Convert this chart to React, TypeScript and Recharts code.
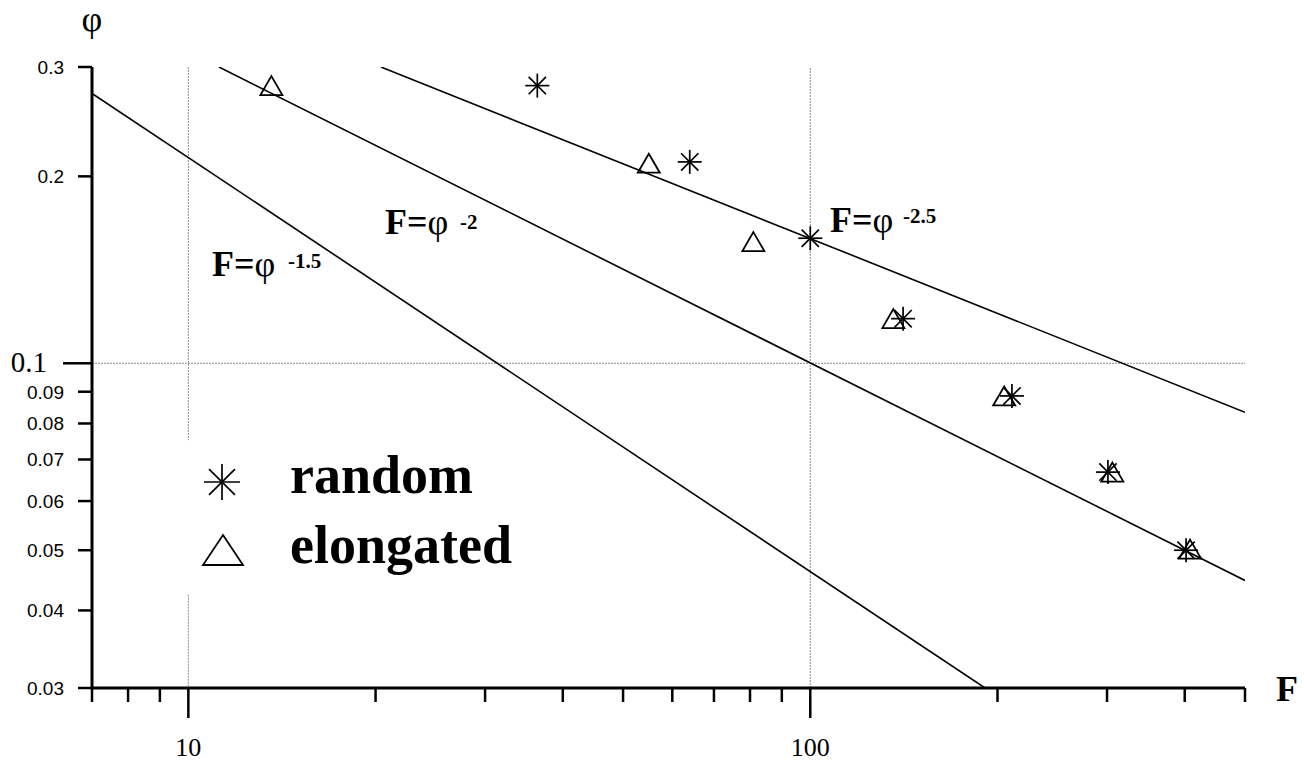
import { ComposedChart, Line, Scatter, XAxis, YAxis, ReferenceLine, Legend } from "recharts";

const W = 1304;
const H = 761;
const SERIF = "'Liberation Serif', 'Times New Roman', serif";
const SANS = "'Liberation Sans', Arial, sans-serif";

// axis ticks
const F_TICKS = [7, 8, 9, 10, 20, 30, 40, 50, 60, 70, 80, 90, 100, 200, 300, 400, 500];
const F_LABELED = [10, 100];
const PHI_TICKS = [0.03, 0.04, 0.05, 0.06, 0.07, 0.08, 0.09, 0.1, 0.2, 0.3];

// measured points
const F_RANDOM = [36.4, 64, 100, 141, 211, 301, 402];
const PHI_RANDOM = [0.28, 0.211, 0.159, 0.118, 0.0886, 0.0668, 0.05];
const F_ELONG = [13.6, 55, 81, 136, 205, 306, 408];
const PHI_ELONG = [0.28, 0.21, 0.157, 0.118, 0.0886, 0.0668, 0.0502];

// power-law guide lines (end points)
const FIT15_F = [7, 191];
const FIT15_PHI = [0.272, 0.03];
const FIT20_F = [11.2, 500];
const FIT20_PHI = [0.3, 0.0447];
const FIT25_F = [20.4, 500];
const FIT25_PHI = [0.3, 0.0834];

const FIT_LABELS = [
  { exp: "-1.5", x: 212, y: 276, supX: 288, supY: 268 },
  { exp: "-2", x: 385, y: 234, supX: 460, supY: 229 },
  { exp: "-2.5", x: 830, y: 232, supX: 903, supY: 223 },
];

const zip = (xs: number[], ys: number[]) => xs.map((x, i) => ({ x, y: ys[i] }));

function Asterisk({ cx, cy, r = 12 }: { cx?: number; cy?: number; r?: number }) {
  if (cx == null || cy == null) return null;
  const d = r * 0.72;
  return (
    <g stroke="#000" strokeWidth={1.7}>
      <line x1={cx - r} y1={cy} x2={cx + r} y2={cy} />
      <line x1={cx} y1={cy - r} x2={cx} y2={cy + r} />
      <line x1={cx - d} y1={cy - d} x2={cx + d} y2={cy + d} />
      <line x1={cx - d} y1={cy + d} x2={cx + d} y2={cy - d} />
    </g>
  );
}

function Triangle({ cx, cy, w = 22, h = 19 }: { cx?: number; cy?: number; w?: number; h?: number }) {
  if (cx == null || cy == null) return null;
  return (
    <path
      d={`M${cx},${cy - h / 2} L${cx + w / 2},${cy + h / 2} L${cx - w / 2},${cy + h / 2} Z`}
      fill="none" stroke="#000" strokeWidth={1.8} strokeLinejoin="miter"
    />
  );
}

function FTick({ x, y, payload }: any) {
  const major = F_LABELED.includes(payload.value);
  return (
    <g>
      <line x1={x} y1={y} x2={x} y2={y + (major ? 30 : 14)} stroke="#000" strokeWidth={2.5} />
      {major && (
        <text x={x} y={y + 68} textAnchor="middle" fontFamily={SERIF} fontSize={26} fill="#000">
          {payload.value}
        </text>
      )}
    </g>
  );
}

function PhiTick({ x, y, payload }: any) {
  const major = payload.value === 0.1;
  return (
    <g>
      <line x1={x - (major ? 29 : 14)} y1={y} x2={x} y2={y} stroke="#000" strokeWidth={2.5} />
      {major ? (
        <text x={x - 45} y={y + 9} textAnchor="end" fontFamily={SERIF} fontSize={29} fill="#000">0.1</text>
      ) : (
        <text x={x - 28} y={y + 7} textAnchor="end" fontFamily={SANS} fontSize={19} fill="#000">
          {payload.value}
        </text>
      )}
    </g>
  );
}

function LegendBox() {
  return (
    <svg width={360} height={170}>
      <Asterisk cx={32} cy={52} r={18} />
      <text x={100} y={63} fontFamily={SERIF} fontWeight="bold" fontSize={54} fill="#000">random</text>
      <Triangle cx={33} cy={120} w={40} h={30} />
      <text x={100} y={133} fontFamily={SERIF} fontWeight="bold" fontSize={54} fill="#000">elongated</text>
    </svg>
  );
}

const grid = { stroke: "#8c8c8c", strokeWidth: 1, strokeDasharray: "2 1" };

export default function App() {
  return (
    <div style={{ position: "absolute", left: 0, top: 0, width: W, height: H, background: "#fff" }}>
      <ComposedChart width={W} height={H} margin={{ top: 67, right: 59, bottom: 43, left: 32 }}>
        <XAxis
          type="number" dataKey="x" scale="log" domain={[7, 500]} allowDataOverflow
          ticks={F_TICKS} interval={0} height={30}
          axisLine={{ stroke: "#000", strokeWidth: 3 }} tickLine={false} tickSize={0} tickMargin={0}
          tick={(p: any) => <FTick {...p} />}
        />
        <YAxis
          type="number" dataKey="y" scale="log" domain={[0.03, 0.3]} allowDataOverflow
          ticks={PHI_TICKS} interval={0} width={60}
          axisLine={{ stroke: "#000", strokeWidth: 3 }} tickLine={false} tickSize={0} tickMargin={0}
          tick={(p: any) => <PhiTick {...p} />}
        />
        <ReferenceLine segment={[{ x: 10, y: 0.3 }, { x: 10, y: 0.0752 }]} {...grid} />
        <ReferenceLine segment={[{ x: 10, y: 0.0424 }, { x: 10, y: 0.03 }]} {...grid} />
        <ReferenceLine x={100} {...grid} />
        <ReferenceLine y={0.1} {...grid} />
        <Line data={zip(FIT15_F, FIT15_PHI)} dataKey="y" type="linear" stroke="#000" strokeWidth={1.6} dot={false} isAnimationActive={false} />
        <Line data={zip(FIT20_F, FIT20_PHI)} dataKey="y" type="linear" stroke="#000" strokeWidth={1.6} dot={false} isAnimationActive={false} />
        <Line data={zip(FIT25_F, FIT25_PHI)} dataKey="y" type="linear" stroke="#000" strokeWidth={1.6} dot={false} isAnimationActive={false} />
        <Scatter name="elongated" data={zip(F_ELONG, PHI_ELONG)} shape={(p: any) => <Triangle cx={p.cx} cy={p.cy} />} isAnimationActive={false} />
        <Scatter name="random" data={zip(F_RANDOM, PHI_RANDOM)} shape={(p: any) => <Asterisk cx={p.cx} cy={p.cy} />} isAnimationActive={false} />
        <Legend
          layout="vertical" align="center" verticalAlign="middle"
          content={() => <LegendBox />}
          wrapperStyle={{ left: 190, top: 430, width: 360, height: 170 }}
        />
      </ComposedChart>
      <svg width={W} height={H} style={{ position: "absolute", left: 0, top: 0, pointerEvents: "none" }}>
        <text x={92} y={31} textAnchor="middle" fontFamily={SERIF} fontSize={36} fill="#000">φ</text>
        <text x={1276} y={701} fontFamily={SERIF} fontWeight="bold" fontSize={36} fill="#000">F</text>
        {FIT_LABELS.map((l) => (
          <g key={l.exp}>
            <text x={l.x} y={l.y} fontFamily={SERIF} fontSize={36} fill="#000">
              <tspan fontWeight="bold">F=</tspan>φ
            </text>
            <text x={l.supX} y={l.supY} fontFamily={SERIF} fontWeight="bold" fontSize={21} fill="#000">{l.exp}</text>
          </g>
        ))}
      </svg>
    </div>
  );
}
